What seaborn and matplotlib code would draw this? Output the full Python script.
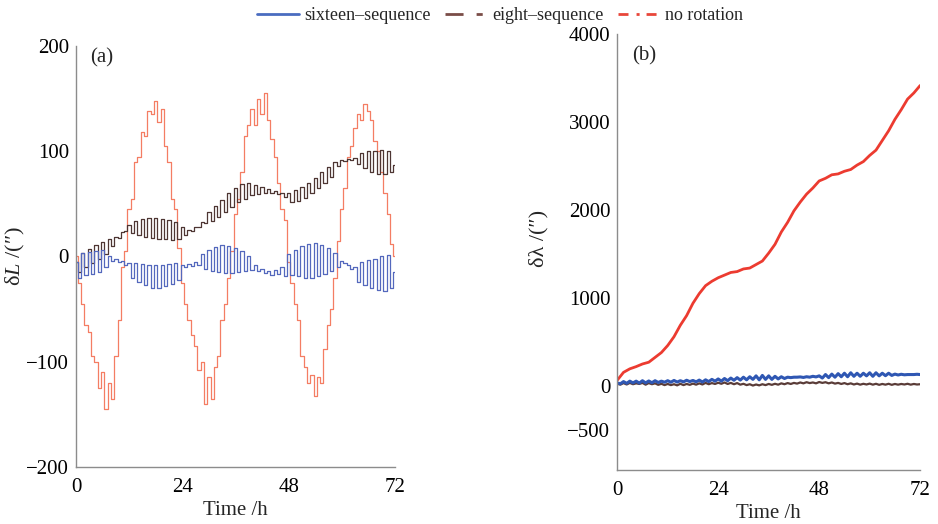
import numpy as np
import pandas as pd
import matplotlib
matplotlib.use("Agg")
import matplotlib.pyplot as plt
from matplotlib.lines import Line2D
import seaborn as sns

# time grid (h) for the sampled curves
hours_fine = np.arange(0, 72.01, 0.75)
hours_coarse = np.arange(0, 72.01, 1.5)

# panel (a): delta L (arcsec)
sixteen_a = [-5, -20, 3, -18, 4, -17, 5, -15, 6, -10, 0, -4, -2, -5, -4, -8,
             -6, -20, -6, -24, -7, -27, -8, -30, -8, -30, -8, -28, -7, -26, -6, -22,
             -8, -10, -7, -9, -5, -8, 2, -12, 6, -14, 9, -15, 11, -16, 10, -16,
             8, -15, 5, -14, 0, -13, -8, -14, -12, -16, -14, -18, -13, -17, -10, -19,
             2, -18, 6, -19, 10, -20, 12, -20, 13, -19, 11, -17, 8, -14, 3, -10,
             -4, -6, -8, -12, -10, -24, -5, -27, -3, -30, -2, -32, 0, -33, 1, -30, -15]
eight_a = [-5, -15, 3, -10, 7, -6, 11, -2, 14, 2, 17, 10, 19, 18, 23, 24,
           30, 22, 34, 20, 36, 19, 37, 18, 37, 17, 36, 17, 35, 16, 33, 17,
           28, 20, 25, 24, 28, 28, 33, 32, 42, 34, 48, 38, 54, 42, 60, 47,
           65, 52, 69, 55, 70, 58, 68, 59, 66, 60, 64, 60, 62, 59, 60, 57,
           60, 52, 63, 53, 66, 56, 70, 60, 75, 65, 80, 70, 85, 76, 90, 86,
           92, 91, 93, 92, 94, 88, 98, 84, 100, 80, 100, 78, 101, 78, 100, 80, 87]
norot_a = [0, -25, -45, -65, -72, -95, -100, -125, -110, -145, -120, -135, -95, -60, -10, 5,
           45, 55, 90, 95, 118, 115, 138, 135, 148, 128, 140, 105, 90, 55, 45, 8,
           -25, -45, -60, -75, -85, -108, -100, -140, -115, -135, -105, -95, -60, -45, -20, 5,
           40, 55, 80, 115, 125, 140, 125, 150, 135, 155, 130, 112, 95, 70, 45, 35,
           -5, -25, -45, -60, -95, -105, -120, -113, -133, -115, -120, -88, -65, -50, -20, 15,
           45, 65, 95, 105, 122, 135, 130, 145, 138, 130, 110, 100, 80, 60, 40, 12, 0]

# panel (b): delta lambda (arcsec)
sixteen_b = [30, 20, 45, 25, 50, 30, 50, 28, 55, 30, 52, 32, 55, 35, 50, 38,
             55, 38, 58, 40, 55, 42, 60, 45, 58, 42, 62, 40, 65, 45, 70, 50,
             75, 50, 80, 55, 85, 60, 90, 62, 95, 65, 100, 70, 110, 65, 115, 70,
             110, 70, 105, 75, 100, 80, 95, 90, 95, 95, 98, 92, 100, 95, 105, 98,
             110, 85, 125, 90, 130, 95, 135, 100, 140, 100, 145, 105, 140, 105, 140, 110,
             145, 105, 145, 110, 140, 112, 140, 115, 130, 120, 128, 122, 125, 125, 125, 128, 125]
eight_b = [20, 10, 28, 12, 30, 15, 25, 18, 30, 10, 28, 15, 25, 8, 20, 5,
           18, 5, 15, 2, 20, 5, 18, 8, 22, 10, 25, 12, 30, 15, 28, 18,
           32, 20, 35, 18, 30, 15, 28, 10, 20, 5, 15, 0, 12, 2, 15, 5,
           18, 8, 20, 10, 25, 15, 28, 18, 30, 22, 35, 25, 38, 28, 35, 25,
           40, 30, 38, 25, 35, 22, 30, 18, 28, 15, 25, 12, 22, 10, 20, 12,
           22, 10, 20, 8, 18, 10, 20, 8, 18, 10, 18, 12, 20, 10, 18, 12, 15]
norot_b = [60, 150, 190, 215, 245, 265, 320, 375, 455, 555, 685, 795, 935, 1045, 1135, 1185,
           1225, 1255, 1285, 1295, 1325, 1335, 1375, 1415, 1505, 1605, 1745, 1855, 1985, 2085, 2175, 2245,
           2325, 2355, 2395, 2405, 2435, 2455, 2505, 2545, 2615, 2675, 2785, 2895, 3025, 3135, 3255, 3325, 3410]

x_ticks = [0, 24, 48, 72]
ya_ticks = [-200, -100, 0, 100, 200]
yb_ticks = [-500, 0, 1000, 2000, 3000, 4000]

c_blue_a, c_brown_a, c_red_a = "#5468bd", "#4e3633", "#f47d63"
c_blue_b, c_brown_b, c_red_b = "#2f57b3", "#5a3c38", "#ec3b30"

sns.set_style("white")
plt.rcParams["font.family"] = ["Liberation Serif", "DejaVu Serif"]
plt.rcParams["mathtext.fontset"] = "custom"
plt.rcParams["mathtext.rm"] = "Liberation Serif"
plt.rcParams["mathtext.it"] = "Liberation Serif:italic"

df_a = pd.DataFrame({"t": hours_fine, "sixteen": sixteen_a, "eight": eight_a, "norot": norot_a})
df_b = pd.DataFrame({"t": hours_fine, "sixteen": sixteen_b, "eight": eight_b})
df_b_red = pd.DataFrame({"t": hours_coarse, "norot": norot_b})

fig = plt.figure(figsize=(9.38, 5.24), dpi=100)
ax1 = fig.add_axes([0.081, 0.109, 0.340, 0.803])
ax2 = fig.add_axes([0.658, 0.103, 0.323, 0.833])

# (a)
sns.lineplot(data=df_a, x="t", y="norot", ax=ax1, color=c_red_a, lw=0.9,
             drawstyle="steps-mid", estimator=None, sort=False)
sns.lineplot(data=df_a, x="t", y="eight", ax=ax1, color=c_brown_a, lw=0.9,
             drawstyle="steps-mid", estimator=None, sort=False)
sns.lineplot(data=df_a, x="t", y="sixteen", ax=ax1, color=c_blue_a, lw=0.9,
             drawstyle="steps-mid", estimator=None, sort=False)
ax1.set_xlim(0, 72)
ax1.set_ylim(-200, 200)
ax1.set_yticks(ya_ticks)
ax1.set_ylabel(r"δ$L$ /(″)", fontsize=16)
ax1.yaxis.set_label_coords(-0.155, 0.5)
ax1.text(0.045, 0.995, "(a)", transform=ax1.transAxes, fontsize=15, va="top")

# (b)
sns.lineplot(data=df_b_red, x="t", y="norot", ax=ax2, color=c_red_b, lw=2.0,
             estimator=None, sort=False)
sns.lineplot(data=df_b, x="t", y="eight", ax=ax2, color=c_brown_b, lw=1.6,
             estimator=None, sort=False)
sns.lineplot(data=df_b, x="t", y="sixteen", ax=ax2, color=c_blue_b, lw=2.2,
             estimator=None, sort=False)
ax2.set_xlim(0, 72)
ax2.set_ylim(-960, 4000)
ax2.set_yticks(yb_ticks)
ax2.set_ylabel("δλ /(″)", fontsize=16)
ax2.yaxis.set_label_coords(-0.228, 0.53)
ax2.text(0.05, 0.972, "(b)", transform=ax2.transAxes, fontsize=15, va="top")

for ax in (ax1, ax2):
    ax.set_xticks(x_ticks)
    ax.set_xlabel("Time /h", fontsize=15, labelpad=3)
    sns.despine(ax=ax)
    for s in ("left", "bottom"):
        ax.spines[s].set_color("#8c8c8c")
        ax.spines[s].set_linewidth(1.0)
    ax.tick_params(direction="in", length=4, width=0.8, colors="#333333",
                   labelsize=15, labelcolor="black", pad=5)
    ax.tick_params(axis="x", pad=8)

handles = [
    Line2D([], [], color="#4a6cc0", lw=2),
    Line2D([], [], color="#7a4d48", lw=2, linestyle=(0, (6.5, 4.7, 2.2, 10))),
    Line2D([], [], color="#e8463a", lw=2, linestyle=(0, (3.6, 2.9, 1.1, 2.5))),
]
fig.legend(handles, ["sixteen\u2013sequence", "eight\u2013sequence", "no rotation"],
           loc="center left", bbox_to_anchor=(0.274, 0.97), ncol=3, frameon=False,
           fontsize=13, handlelength=2.3, columnspacing=0.8, handletextpad=0.3,
           borderaxespad=0, borderpad=0)

fig.savefig("out.png", dpi=100)
